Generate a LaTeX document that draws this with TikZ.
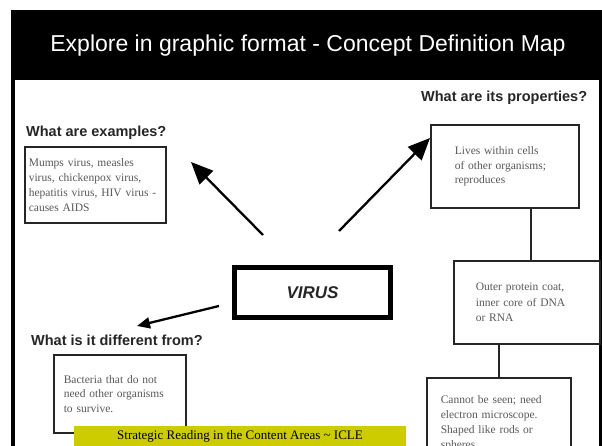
\documentclass[tikz,border=0pt]{standalone}
\usepackage{fontspec}
\setmainfont{Liberation Serif}
\newfontfamily\arialfont{Liberation Sans}
\usetikzlibrary{arrows.meta}
\definecolor{iclegold}{RGB}{204,204,0}

\begin{document}
\begin{tikzpicture}[x=1pt,y=-1pt,->,>={Triangle[length=22pt,width=19pt]},line width=2.3pt,
	defbox/.style={draw=black!85,line width=1.6pt,anchor=north west,align=left,text=black!65,
		inner ysep=0pt,font=\fontsize{11.5}{15}\selectfont},
	question/.style={anchor=west,inner sep=0pt,text=black!85,font=\arialfont\bfseries\fontsize{14.5}{16}\selectfont}]
			\useasboundingbox (0,0) rectangle (602,446);
			\clip (0,0) rectangle (602,446);
			\fill[black] (11,10) rectangle (602,446);
			\fill[white] (14.5,80) rectangle (599,446);
			\node[text=white,font=\arialfont\fontsize{23}{26}\selectfont] (title) at (308,46) {Explore in graphic format - Concept Definition Map};

			\node[draw=black,line width=4.5pt,minimum width=156pt,minimum height=50pt,
				font=\arialfont\bfseries\itshape\fontsize{17}{19}\selectfont,text=black!85] (virus) at (312.5,292.5) {VIRUS};

			\node[question] (qex) at (25,133) {What are examples?};
			\node[defbox,text width=133pt,inner xsep=4pt,minimum height=76pt] (ex) at (24,146)
				{Mumps virus, measles\\virus, chickenpox virus,\\hepatitis virus, HIV virus -\\causes AIDS};

			\node[question] (qprop) at (420,98) {What are its properties?};
			\node[defbox,text width=100pt,inner xsep=24pt,minimum height=83pt,
				font=\fontsize{11.5}{14.5}\selectfont] (prop) at (430,124)
				{Lives within cells\\of other organisms;\\reproduces};
			\node[defbox,text width=102pt,inner xsep=22pt,minimum height=83pt,
				font=\fontsize{11.5}{15.5}\selectfont] (coat) at (453,260)
				{Outer protein coat,\\inner core of DNA\\or RNA};
			\node[defbox,text width=116pt,inner xsep=14pt,minimum height=90pt] (micro) at (426,377)
				{Cannot be seen; need\\electron microscope.\\Shaped like rods or\\spheres.};

			\node[question] (qdiff) at (30,340) {What is it different from?};
			\node[defbox,text width=112pt,inner xsep=10pt,minimum height=78pt,
				font=\fontsize{11.5}{14.5}\selectfont] (bact) at (53,354)
				{Bacteria that do not\\need other organisms\\to survive.};

			\node[fill=iclegold,minimum width=332pt,minimum height=20pt,inner sep=0pt,
				font=\fontsize{13}{15}\selectfont] (footer) at (240,436)
				{Strategic Reading in the Content Areas \textasciitilde{} ICLE};

			\coordinate (exTail) at (263,235);
			\coordinate (exTip) at (191,162);
			\coordinate (propTail) at (339,231);
			\coordinate (propTip) at (430,138);
			\coordinate (diffTail) at (219,306);
			\coordinate (diffTip) at (137,326);

			\path
				(exTail) edge (exTip)
				(propTail) edge (propTip)
				(diffTail) edge [>={Triangle[length=13pt,width=11pt]}] (diffTip)
				([xshift=26pt]prop.south) edge [-,line width=1.8pt,draw=black!85] ([xshift=26pt]prop.south |- coat.north)
				([xshift=-27.5pt]coat.south) edge [-,line width=1.8pt,draw=black!85] ([xshift=-27.5pt]coat.south |- micro.north)
			;
		\end{tikzpicture}
\end{document}
